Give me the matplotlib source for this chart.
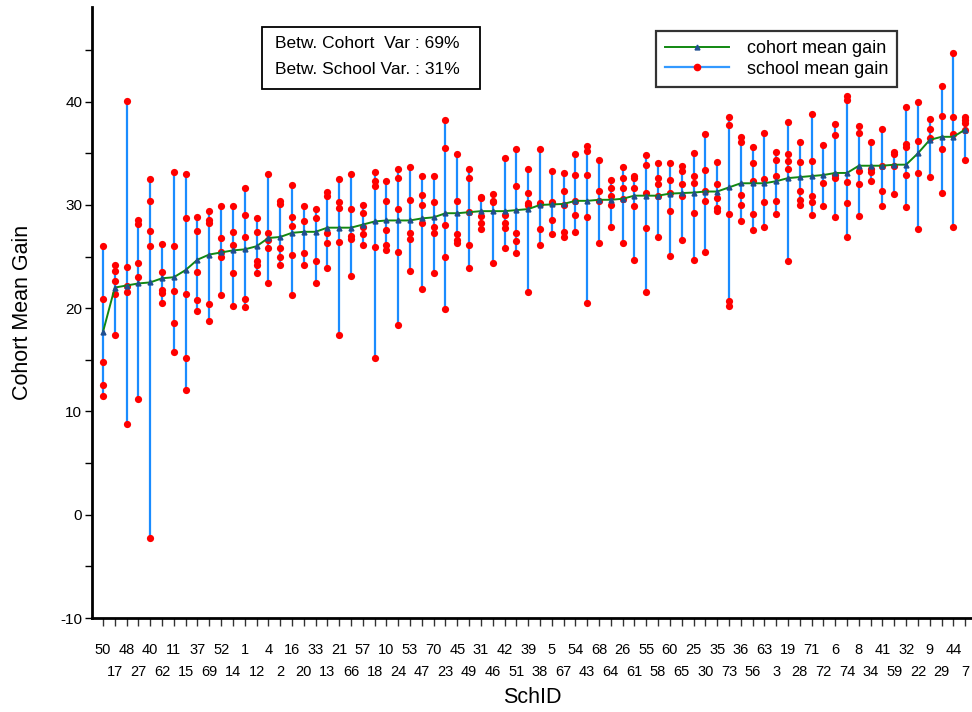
import matplotlib
matplotlib.use("Agg")
import matplotlib.pyplot as plt
from matplotlib.lines import Line2D
from matplotlib.patches import Rectangle
import numpy as np

plt.rcParams['font.family'] = ['Liberation Sans', 'DejaVu Sans']
plt.rcParams['axes.unicode_minus'] = False

schid = [50, 17, 48, 27, 40, 62, 11, 15, 37, 69, 52, 14, 1, 12, 4, 2, 16, 20, 33, 13,
         21, 66, 57, 18, 10, 24, 53, 47, 70, 23, 45, 49, 31, 46, 42, 51, 39, 38, 5, 67,
         54, 43, 68, 64, 26, 61, 55, 58, 60, 65, 25, 30, 35, 73, 36, 56, 63, 3, 19, 28,
         71, 72, 6, 74, 8, 34, 41, 59, 32, 22, 9, 29, 44, 7]

cohort_mean = [17.7, 22.0, 22.2, 22.4, 22.5, 22.9, 23.0, 23.7, 24.7, 25.2,
               25.4, 25.6, 25.7, 26.0, 26.8, 26.9, 27.3, 27.4, 27.4, 27.8,
               27.8, 27.8, 28.1, 28.4, 28.5, 28.5, 28.5, 28.7, 28.8, 29.2,
               29.2, 29.3, 29.4, 29.4, 29.4, 29.5, 29.6, 30.0, 30.05, 30.1,
               30.4, 30.4, 30.5, 30.5, 30.6, 30.9, 30.9, 30.9, 31.1, 31.15,
               31.2, 31.3, 31.3, 31.7, 32.1, 32.1, 32.1, 32.3, 32.6, 32.7,
               32.8, 32.9, 33.1, 33.1, 33.8, 33.8, 33.8, 33.9, 33.9, 35.0,
               36.3, 36.6, 36.6, 37.3]

school_gains = [
    [26.0, 20.9, 14.8, 12.6, 11.5],
    [24.2, 23.6, 22.6, 21.4, 17.4],
    [40.1, 24.0, 22.2, 21.6, 8.8],
    [28.5, 28.2, 24.4, 23.0, 11.2],
    [32.5, 30.4, 27.5, 26.0, -2.3],
    [26.2, 23.5, 21.8, 21.5, 20.5],
    [33.2, 26.0, 21.7, 18.6, 15.8],
    [33.0, 28.7, 21.4, 15.2, 12.1],
    [28.8, 27.5, 23.5, 20.8, 19.7],
    [29.4, 28.5, 28.3, 20.4, 18.8],
    [29.9, 26.8, 25.4, 25.0, 21.3],
    [29.9, 27.4, 26.1, 23.4, 20.2],
    [31.6, 29.0, 26.9, 20.9, 20.1],
    [28.7, 27.4, 24.6, 24.2, 23.4],
    [33.0, 27.3, 26.6, 25.8, 22.4],
    [30.4, 30.1, 25.8, 25.0, 24.2],
    [31.9, 28.8, 28.0, 25.2, 21.3],
    [29.9, 28.4, 25.3, 24.2],
    [29.6, 28.7, 24.6, 22.4],
    [31.3, 30.9, 27.3, 26.3, 23.9],
    [32.5, 30.3, 29.7, 26.4, 17.4],
    [33.0, 29.6, 27.0, 26.7, 23.1],
    [30.0, 29.2, 27.9, 27.2, 26.1],
    [33.2, 32.3, 31.8, 25.9, 15.2],
    [32.3, 30.4, 27.6, 26.1, 25.6],
    [33.5, 32.6, 29.6, 25.4, 18.4],
    [33.7, 30.5, 27.3, 26.7, 23.6],
    [32.8, 31.0, 30.0, 28.3, 21.9],
    [32.8, 30.3, 27.9, 27.3, 23.4],
    [38.2, 35.5, 28.1, 25.0, 19.9],
    [34.9, 30.4, 27.2, 26.6, 26.3],
    [33.5, 32.6, 29.3, 26.1, 23.9],
    [30.8, 30.7, 28.9, 28.3, 27.7],
    [31.1, 30.4, 30.3, 24.4],
    [34.5, 29.0, 28.3, 27.8, 25.8],
    [35.4, 31.8, 27.3, 26.5, 25.3],
    [33.5, 31.2, 30.2, 30.0, 21.6],
    [35.4, 30.2, 30.1, 27.7, 26.1],
    [33.3, 30.3, 30.2, 28.5, 27.2],
    [33.1, 31.4, 30.0, 27.4, 26.9],
    [34.9, 32.9, 30.4, 29.0, 27.4],
    [35.7, 35.2, 32.9, 28.8, 20.5],
    [34.4, 31.4, 30.4, 26.3],
    [32.4, 31.6, 30.9, 30.0, 27.9],
    [33.7, 32.6, 31.6, 30.6, 26.3],
    [32.8, 32.6, 31.6, 29.9, 24.7],
    [34.8, 33.9, 31.2, 27.8, 21.6],
    [34.1, 32.6, 32.0, 30.9, 26.9],
    [34.1, 32.4, 31.2, 29.4, 25.1],
    [33.8, 33.3, 32.0, 30.9, 26.6],
    [35.0, 32.8, 32.1, 29.2, 24.7],
    [36.9, 33.4, 31.4, 30.4, 25.4],
    [34.2, 32.0, 30.7, 29.7, 29.4],
    [38.5, 37.7, 29.1, 20.7, 20.2],
    [36.6, 36.1, 31.0, 30.0, 28.4],
    [35.6, 34.1, 32.3, 29.1, 27.6],
    [37.0, 32.5, 30.3, 27.9],
    [35.1, 34.4, 32.8, 30.4, 29.1],
    [38.0, 34.9, 34.3, 33.5, 24.6],
    [36.1, 34.2, 31.4, 30.5, 30.0],
    [38.8, 34.3, 30.9, 30.3, 29.0],
    [35.8, 32.1, 29.9],
    [37.8, 36.8, 32.9, 32.6, 28.8],
    [40.6, 40.2, 32.2, 30.2, 26.9],
    [37.6, 37.0, 33.3, 32.0, 28.9],
    [36.1, 33.5, 33.2, 32.3],
    [37.4, 33.8, 31.4, 29.9],
    [35.1, 34.9, 33.8, 31.1],
    [39.5, 35.9, 35.6, 32.9, 29.8],
    [40.0, 36.2, 33.1, 27.7],
    [38.3, 37.4, 36.5, 32.7],
    [41.5, 38.6, 35.4, 31.2],
    [44.7, 38.5, 36.9, 27.9],
    [38.5, 38.2, 37.9, 37.3, 34.4],
]

var_text = ["Betw. Cohort  Var : 69%", "Betw. School Var. : 31%"]

blue = '#1a8cff'
red = '#ff0000'
green = '#118811'
tri = '#1f4f8f'

fig = plt.figure(figsize=(9.72, 7.12), dpi=100)
ax = fig.add_axes([92 / 972, 1 - 618 / 712, 880 / 972, 611.3 / 712])

xs = np.arange(len(schid))
mins = [min(g) for g in school_gains]
maxs = [max(g) for g in school_gains]
ax.vlines(xs, mins, maxs, color=blue, lw=1.6, zorder=2)
for x, g in zip(xs, school_gains):
    ax.plot([x] * len(g), g, 'o', color=red, ms=5.2, mew=0, zorder=3)
ax.plot(xs, cohort_mean, '-', color=green, lw=1.4, zorder=4,
        marker='^', ms=3.5, mfc=tri, mec=tri)

ax.set_xlim(-0.93, 73.58)
ax.set_ylim(-10, 49.2)

# x ticks staggered in two rows
ax.set_xticks(xs[::2])
ax.set_xticklabels([str(s) for s in schid[::2]], fontsize=10.5)
ax.set_xticks(xs[1::2], minor=True)
ax.set_xticklabels([str(s) for s in schid[1::2]], minor=True, fontsize=10.5)
ax.tick_params(axis='x', which='major', length=6, width=1, pad=12, color='#333333')
ax.tick_params(axis='x', which='minor', length=6, width=1, pad=27.5, color='#333333')

ax.set_yticks(np.arange(-10, 41, 10))
ax.set_yticks(np.arange(-5, 46, 10), minor=True)
ax.tick_params(axis='y', which='both', length=5, width=1, pad=2, labelsize=11)

for s in ['top', 'right']:
    ax.spines[s].set_visible(False)
for s in ['left', 'bottom']:
    ax.spines[s].set_linewidth(2)

ax.set_ylabel("Cohort Mean Gain", fontsize=15.5, labelpad=20)
ax.set_xlabel("SchID", fontsize=15.5, labelpad=6)

# variance text box
ax.add_patch(Rectangle((0.1932, 0.8656), 0.2477, 0.1013, transform=ax.transAxes,
                       fill=True, fc='white', ec='black', lw=1.3, zorder=5))
ax.text(0.208, 0.939, var_text[0], transform=ax.transAxes, fontsize=12.5,
        va='center', ha='left', zorder=6)
ax.text(0.208, 0.8966, var_text[1], transform=ax.transAxes, fontsize=12.5,
        va='center', ha='left', zorder=6)

handles = [
    Line2D([], [], color=green, lw=1.4, marker='^', ms=3.5, mfc=tri, mec=tri),
    Line2D([], [], color='#3399ff', lw=1.6, marker='o', ms=4.5, mfc=red, mec=red),
]
leg = ax.legend(handles, ["cohort mean gain", "school mean gain"],
                loc='upper right', bbox_to_anchor=(0.9148, 0.9603),
                fontsize=13, frameon=True, fancybox=False, edgecolor='black',
                handlelength=3.5, handletextpad=1.0, labelspacing=0.2,
                borderpad=0.5, borderaxespad=0)
leg.get_frame().set_linewidth(1.6)

fig.savefig("out.png", dpi=100)
